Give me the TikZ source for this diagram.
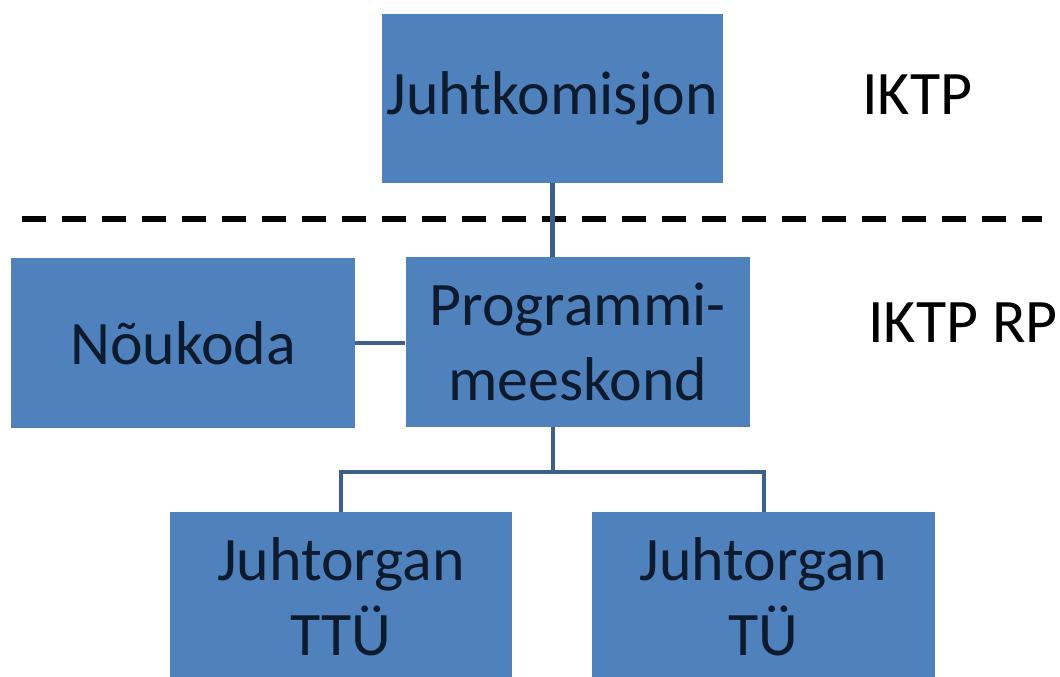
\documentclass[tikz,border=0pt]{standalone}
\usepackage{fontspec}
\setmainfont{Carlito}
\usepackage{xcolor}
\definecolor{BoxBlue}{HTML}{4F81BD}
\definecolor{LinkBlue}{HTML}{3C5F8C}
\definecolor{TextDark}{HTML}{0E1A2E}
\tikzstyle{OrgBlock}=[fill=BoxBlue,text=TextDark,minimum width=8.6cm,minimum height=4.25cm,inner sep=0pt,align=center,font=\fontsize{44}{53}\selectfont]
\tikzstyle{levelLabel}=[anchor=base west,inner sep=0pt,font=\fontsize{44}{53}\selectfont]
\tikzstyle{orgLink}=[draw=LinkBlue,line width=3pt]
\tikzstyle{levelSplit}=[draw=black,line width=4.3pt,dash pattern=on 0.6cm off 0.4cm]

\begin{document}
\begin{tikzpicture}
        \useasboundingbox (0,0) rectangle (26.5,-16.925);

        % Top level
        \node[OrgBlock, minimum width=8.525cm, minimum height=4.225cm] (jk) at (13.81, -2.46) {Juhtkomisjon};
        \node[levelLabel] (iktp) at (21.55, -2.875) {IKTP};

        % Separator
        \coordinate (s0) at (0.55, -5.475);
        \coordinate (s1) at (26.05, -5.475);
        \draw[levelSplit] (s0) -- (s1);

        % Programme level
        \node[OrgBlock] (pm) at (14.44, -8.55) {Programmi-\\meeskond};
        \node[OrgBlock] (nk) at (4.575, -8.575) {Nõukoda};
        \node[levelLabel] (iktprp) at (21.7, -8.575) {IKTP RP};

        % Bottom level
        \node[OrgBlock, minimum width=8.55cm] (ttu) at (8.525, -14.925) {Juhtorgan\\TTÜ};
        \node[OrgBlock, minimum width=8.575cm] (tu) at (19.09, -14.925) {Juhtorgan\\TÜ};

        % Links
        \draw[orgLink] (jk.south) -- (jk.south |- pm.north);
        \draw[orgLink] (nk.east) -- (pm.west |- nk.east);
        \coordinate (fork) at (13.825, -11.8);
        \draw[orgLink] (fork |- pm.south) -- (fork);
        \draw[orgLink] (ttu.north) |- (fork) -| (tu.north);

\end{tikzpicture}
\end{document}
